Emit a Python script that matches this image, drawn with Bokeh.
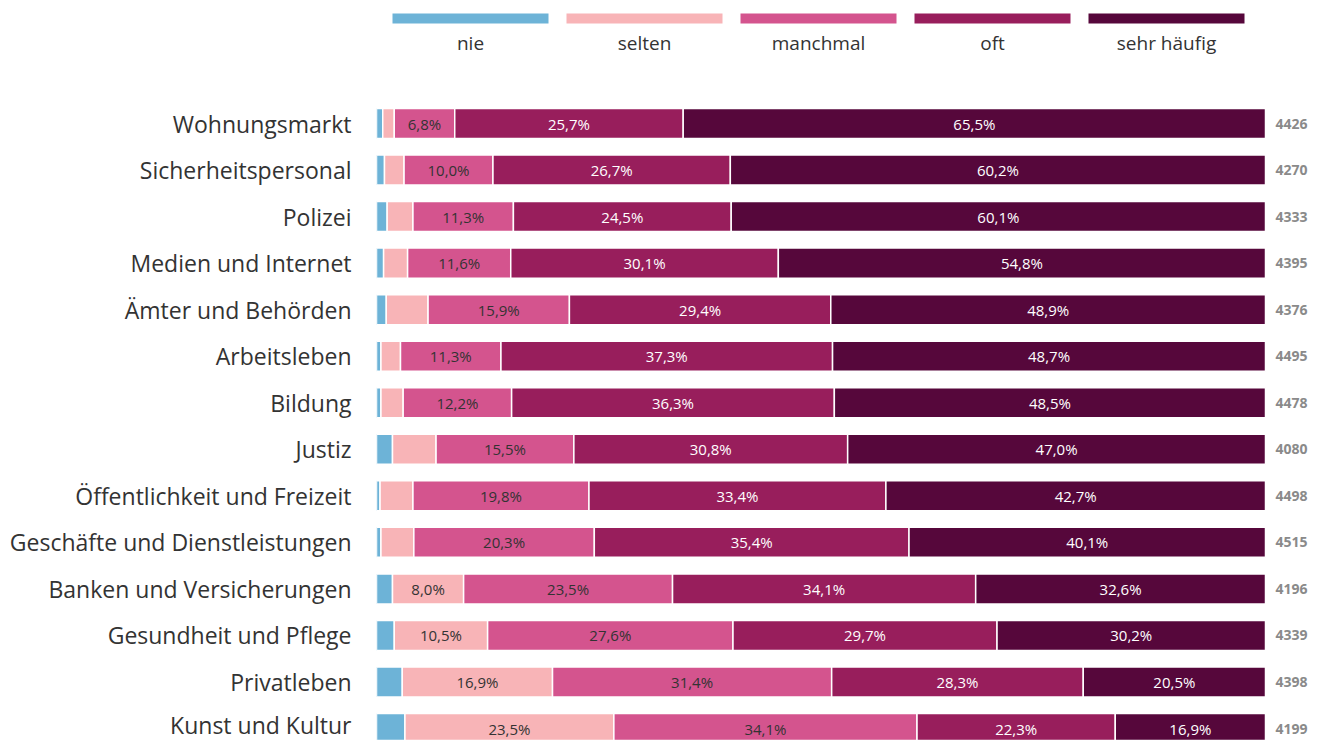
import numpy as np
from bokeh.plotting import figure
from bokeh.layouts import column
from bokeh.models import ColumnDataSource, Range1d, FixedTicker
from bokeh.core.properties import value
from bokeh.embed import file_html
from bokeh.resources import INLINE

categories = ["Wohnungsmarkt", "Sicherheitspersonal", "Polizei", "Medien und Internet",
              "Ämter und Behörden", "Arbeitsleben", "Bildung", "Justiz",
              "Öffentlichkeit und Freizeit", "Geschäfte und Dienstleistungen",
              "Banken und Versicherungen", "Gesundheit und Pflege", "Privatleben",
              "Kunst und Kultur"]
series = ["nie", "selten", "manchmal", "oft", "sehr häufig"]
nie = [0.7, 0.9, 1.2, 0.8, 1.1, 0.5, 0.5, 1.8, 0.4, 0.5, 1.8, 2.0, 2.9, 3.2]
selten = [1.3, 2.2, 2.9, 2.7, 4.7, 2.2, 2.5, 4.9, 3.7, 3.7, 8.0, 10.5, 16.9, 23.5]
manchmal = [6.8, 10.0, 11.3, 11.6, 15.9, 11.3, 12.2, 15.5, 19.8, 20.3, 23.5, 27.6, 31.4, 34.1]
oft = [25.7, 26.7, 24.5, 30.1, 29.4, 37.3, 36.3, 30.8, 33.4, 35.4, 34.1, 29.7, 28.3, 22.3]
sehr_haeufig = [65.5, 60.2, 60.1, 54.8, 48.9, 48.7, 48.5, 47.0, 42.7, 40.1, 32.6, 30.2, 20.5, 16.9]
n_values = [4426, 4270, 4333, 4395, 4376, 4495, 4478, 4080, 4498, 4515, 4196, 4339, 4398, 4199]

colors = ["#6db3d7", "#f8b4b7", "#d4548e", "#981e5c", "#56073b"]
label_colors = ["#333333", "#333333", "#333333", "#ffffff", "#ffffff"]
FONT = "Open Sans"

W = 1322
left_px = 376
px_per_pct = 8.89
x_end = (W - left_px) / px_per_pct
xr = Range1d(0, x_end)

# ---------- legend figure (shares the x scale of the bars) ----------
LH = 80
leg = figure(width=W, height=LH, x_range=xr, y_range=Range1d(LH, 0),
             output_backend="svg", toolbar_location=None,
             min_border_left=left_px, min_border_right=0, min_border_top=0, min_border_bottom=0)
leg.axis.visible = False
leg.grid.visible = False
leg.outline_line_color = None
step = 174 / px_per_pct
lx = [(470 - left_px) / px_per_pct + step * i for i in range(len(series))]
leg.rect(x=lx, y=[18] * 5, width=156 / px_per_pct, height=10, fill_color=colors, line_color=None)
leg.text(x=lx, y=[42] * 5, text=series, text_align="center", text_baseline="middle",
         text_font=value(FONT), text_font_size="19px", text_color="#333333")

# ---------- main figure ----------
H = 740 - LH
row_px = 46.54
top = -43 / row_px
bottom = top + H / row_px

p = figure(width=W, height=H, x_range=xr, y_range=Range1d(bottom, top),
           output_backend="svg", toolbar_location=None,
           min_border_left=left_px, min_border_right=0, min_border_top=0, min_border_bottom=0)
p.grid.visible = False
p.outline_line_color = None
p.xaxis.visible = False

ys = list(range(len(categories)))
data = np.array([nie, selten, manchmal, oft, sehr_haeufig])
cum = np.cumsum(data, axis=0)
lefts = cum - data
for k in range(len(series)):
    src = ColumnDataSource(dict(y=ys, left=lefts[k], right=cum[k]))
    p.hbar(y="y", left="left", right="right", height=0.645, source=src,
           fill_color=colors[k], line_color="white", line_width=1.5)
    mask = data[k] >= 5
    lab = [f"{v:.1f}".replace(".", ",") + "%" for v in data[k][mask]]
    mid = ((lefts[k] + cum[k]) / 2)[mask]
    yy = np.array(ys)[mask]
    p.text(x=mid, y=yy, text=lab, text_align="center", text_baseline="middle",
           text_font=value(FONT), text_font_size="15px", text_color=label_colors[k])

p.text(x=[100] * len(ys), y=ys, text=[str(n) for n in n_values], x_offset=10,
       text_align="left", text_baseline="middle", text_font=value(FONT),
       text_font_size="14px", text_font_style="bold", text_color="#8a8a8a")

p.yaxis.ticker = FixedTicker(ticks=ys)
p.yaxis.major_label_overrides = {i: c for i, c in enumerate(categories)}
p.yaxis.axis_line_color = None
p.yaxis.major_tick_line_color = None
p.yaxis.minor_tick_line_color = None
p.yaxis.major_tick_out = 0
p.yaxis.major_tick_in = 0
p.yaxis.major_label_standoff = 25
p.yaxis.major_label_text_font = FONT
p.yaxis.major_label_text_font_size = "23px"
p.yaxis.major_label_text_color = "#333333"

layout = column(leg, p, spacing=0)
open("out.html", "w").write(file_html(layout, INLINE))
